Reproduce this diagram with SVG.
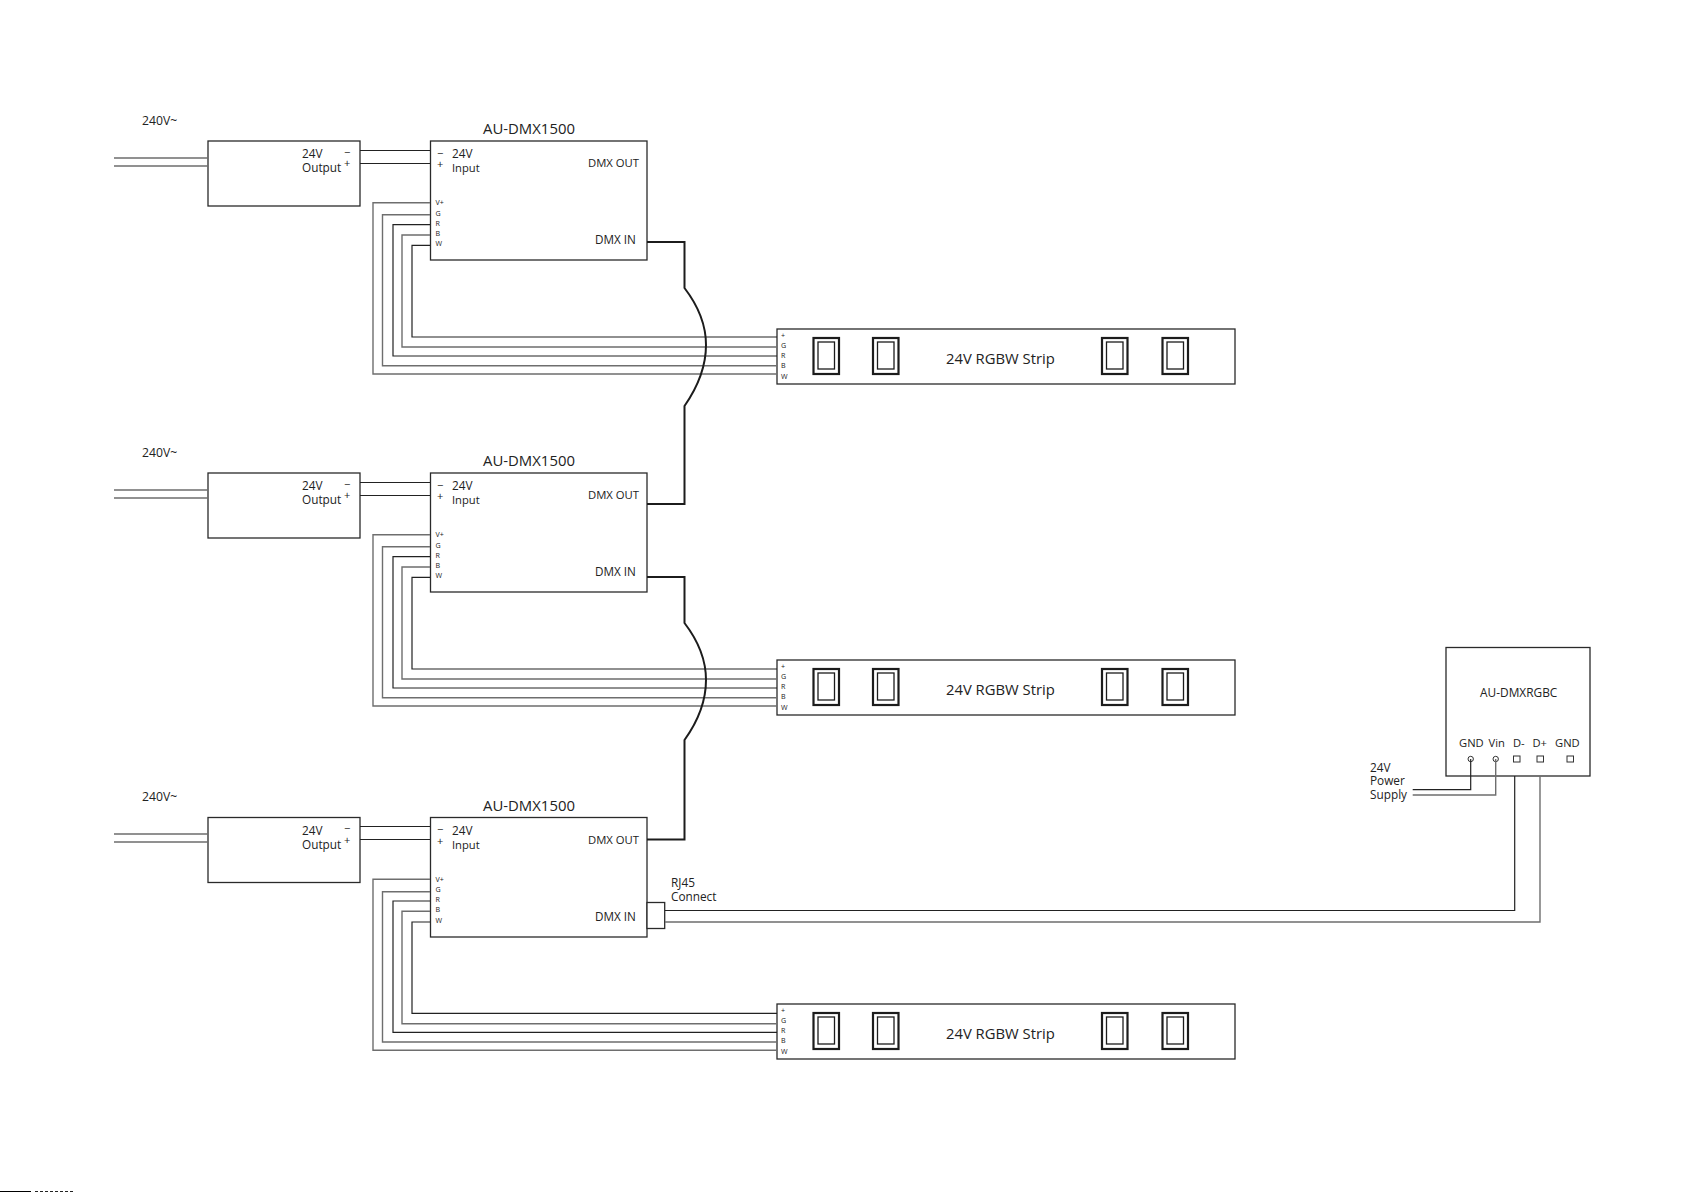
<svg xmlns="http://www.w3.org/2000/svg" width="1685" height="1192" viewBox="0 0 1685 1192">
<style>
text{font-family:"Open Sans","Noto Sans","DejaVu Sans",sans-serif;fill:#222}
.box{fill:#fff;stroke:#2a2a2a;stroke-width:1.3}
.w,.wg,.dmx{fill:none;stroke-linejoin:miter}
.w{stroke:#222;stroke-width:1.2}
.wg{stroke:#6e6e6e;stroke-width:1.4}
.dmx{stroke:#1c1c1c;stroke-width:2}
.led{fill:none;stroke:#1c1c1c}
.t{font-size:14.9px}
.m{font-size:11.8px}
.o{font-size:11.3px}
.i{font-size:11.7px}
.n{font-size:11.2px}
.k{font-size:12.2px}
.p{font-size:11px}
.s{font-size:7.1px}
.strip{font-size:14.8px}
</style>
<defs>
<g id="led"><rect class="led" x="1" y="1" width="25.5" height="36" stroke-width="2.2"/><rect class="led" x="5.5" y="5" width="16.5" height="27" stroke-width="1.3"/></g>
</defs>
<rect width="1685" height="1192" fill="#fff"/>
<g id="psu-1"><rect class="box" x="208" y="141" width="152" height="65"/><text class="m" x="302" y="158">24V</text><text class="m" x="302" y="172">Output</text><text class="p" x="344" y="155.5">−</text><text class="p" x="344" y="167">+</text></g>
<g id="psu-2" transform="translate(0 332)"><rect class="box" x="208" y="141" width="152" height="65"/><text class="m" x="302" y="158">24V</text><text class="m" x="302" y="172">Output</text><text class="p" x="344" y="155.5">−</text><text class="p" x="344" y="167">+</text></g>
<g id="psu-3" transform="translate(0 676.5)"><rect class="box" x="208" y="141" width="152" height="65"/><text class="m" x="302" y="158">24V</text><text class="m" x="302" y="172">Output</text><text class="p" x="344" y="155.5">−</text><text class="p" x="344" y="167">+</text></g>
<g id="mains-labels"><text class="k" x="142" y="125">240V~</text><text class="k" x="142" y="457">240V~</text><text class="k" x="142" y="801">240V~</text></g>
<g id="dmx-1">
<text class="t" x="483" y="134">AU-DMX1500</text><rect class="box" x="430.5" y="141" width="216.5" height="119"/>
<text class="p" x="437" y="156.5">−</text><text class="p" x="437" y="168">+</text><text class="m" x="452" y="158.3">24V</text><text class="n" x="452" y="172.3">Input</text><text class="o" x="588" y="167.3">DMX OUT</text><text class="i" x="595" y="244">DMX IN</text>
<text class="s" x="435.5" y="205">V+</text><text class="s" x="435.5" y="215.5">G</text><text class="s" x="435.5" y="225.5">R</text><text class="s" x="435.5" y="235.8">B</text><text class="s" x="435.5" y="246">W</text>
</g>
<g id="dmx-2" transform="translate(0 332)">
<text class="t" x="483" y="134">AU-DMX1500</text><rect class="box" x="430.5" y="141" width="216.5" height="119"/>
<text class="p" x="437" y="156.5">−</text><text class="p" x="437" y="168">+</text><text class="m" x="452" y="158.3">24V</text><text class="n" x="452" y="172.3">Input</text><text class="o" x="588" y="167.3">DMX OUT</text><text class="i" x="595" y="244">DMX IN</text>
<text class="s" x="435.5" y="205">V+</text><text class="s" x="435.5" y="215.5">G</text><text class="s" x="435.5" y="225.5">R</text><text class="s" x="435.5" y="235.8">B</text><text class="s" x="435.5" y="246">W</text>
</g>
<g id="dmx-3" transform="translate(0 676.5)">
<text class="t" x="483" y="134">AU-DMX1500</text><rect class="box" x="430.5" y="141" width="216.5" height="119.5"/>
<text class="p" x="437" y="156.5">−</text><text class="p" x="437" y="168">+</text><text class="m" x="452" y="158.3">24V</text><text class="n" x="452" y="172.3">Input</text><text class="o" x="588" y="167.3">DMX OUT</text><text class="i" x="595" y="244">DMX IN</text>
<text class="s" x="435.5" y="205">V+</text><text class="s" x="435.5" y="215.5">G</text><text class="s" x="435.5" y="225.5">R</text><text class="s" x="435.5" y="235.8">B</text><text class="s" x="435.5" y="246">W</text>
</g>
<g id="rj45"><rect class="box" x="647" y="902.5" width="17.7" height="26"/><text class="m" x="671" y="887">RJ45</text><text class="m" x="671" y="901">Connect</text></g>
<g id="strip-1"><rect class="box" x="777" y="329" width="458" height="55"/>
<text class="s" x="781" y="337.5">+</text><text class="s" x="781" y="348">G</text><text class="s" x="781" y="358">R</text><text class="s" x="781" y="368">B</text><text class="s" x="781" y="378.5">W</text>
<use href="#led" x="812.5" y="337"/><use href="#led" x="872" y="337"/><use href="#led" x="1101" y="337"/><use href="#led" x="1161.5" y="337"/>
<text class="strip" x="946" y="363.5">24V RGBW Strip</text></g>
<g id="strip-2" transform="translate(0 331)"><rect class="box" x="777" y="329" width="458" height="55"/>
<text class="s" x="781" y="337.5">+</text><text class="s" x="781" y="348">G</text><text class="s" x="781" y="358">R</text><text class="s" x="781" y="368">B</text><text class="s" x="781" y="378.5">W</text>
<use href="#led" x="812.5" y="337"/><use href="#led" x="872" y="337"/><use href="#led" x="1101" y="337"/><use href="#led" x="1161.5" y="337"/>
<text class="strip" x="946" y="363.5">24V RGBW Strip</text></g>
<g id="strip-3" transform="translate(0 675)"><rect class="box" x="777" y="329" width="458" height="55"/>
<text class="s" x="781" y="337.5">+</text><text class="s" x="781" y="348">G</text><text class="s" x="781" y="358">R</text><text class="s" x="781" y="368">B</text><text class="s" x="781" y="378.5">W</text>
<use href="#led" x="812.5" y="337"/><use href="#led" x="872" y="337"/><use href="#led" x="1101" y="337"/><use href="#led" x="1161.5" y="337"/>
<text class="strip" x="946" y="363.5">24V RGBW Strip</text></g>
<g id="au-dmxrgbc"><rect class="box" x="1446" y="647.5" width="144" height="128.5" stroke-width="1.6"/>
<text x="1480" y="697" style="font-size:11.9px">AU-DMXRGBC</text>
<text class="n" x="1459" y="747">GND</text><text class="n" x="1488.5" y="747">Vin</text><text class="n" x="1513" y="747">D-</text><text class="n" x="1532.5" y="747">D+</text><text class="n" x="1555" y="747">GND</text>
<g fill="#fff" stroke="#333" stroke-width="1"><circle cx="1470.7" cy="759" r="2.7"/><circle cx="1495.7" cy="759" r="2.7"/><rect x="1513.5" y="756" width="6.5" height="6"/><rect x="1537" y="756" width="6.5" height="6"/><rect x="1567" y="756" width="6.5" height="6"/></g></g>
<g id="power-label"><text class="m" x="1370" y="771.5">24V</text><text class="m" x="1370" y="785">Power</text><text class="m" x="1370" y="798.5">Supply</text></g>
<g id="edge-strip"><rect x="0" y="1191" width="31" height="1" fill="#000"/><path d="M35 1191.5H73" stroke="#222" stroke-dasharray="3 2"/></g>
<g id="connectors">
<g id="row1-wires">
<path class="wg" d="M114 158H208M114 166H208"/>
<path class="w" d="M360 150.5H430M360 163.5H430"/>
<path class="wg" d="M430 202.7H373V374H777"/>
<path class="wg" d="M430 214.7H382.5V365.7H777"/>
<path class="w" d="M430 224.7H393V356H777"/>
<path class="wg" d="M430 235H402V347H777"/>
<path class="w" d="M430 245.3H412V337H777"/>
</g>
<g id="row2-wires" transform="translate(0 332)">
<path class="wg" d="M114 158H208M114 166H208"/>
<path class="w" d="M360 150.5H430M360 163.5H430"/>
<path class="wg" d="M430 202.7H373V374H777"/>
<path class="wg" d="M430 214.7H382.5V365.7H777"/>
<path class="w" d="M430 224.7H393V356H777"/>
<path class="wg" d="M430 235H402V347H777"/>
<path class="w" d="M430 245.3H412V337H777"/>
</g>
<g id="row3-wires" transform="translate(0 676)">
<path class="wg" d="M114 158H208M114 166H208"/>
<path class="w" d="M360 150.5H430" stroke-width="2"/>
<path class="w" d="M360 163.5H430"/>
<path class="wg" d="M430 203.3H373V374.3H777"/>
<path class="wg" d="M430 215.7H382.5V366H777"/>
<path class="w" d="M430 225H393V356.3H777"/>
<path class="wg" d="M430 235.3H402V347.7H777"/>
<path class="w" d="M430 246H412V337.3H777"/>
</g>
<path id="dmx-1-2" class="dmx" d="M647 242H684.5V288Q706 316 706 345Q706 375 684.5 406V504H647"/>
<path id="dmx-2-3" class="dmx" d="M647 577H684.5V623Q706 651 706 680Q706 710 684.5 740V839.5H647"/>
<path class="w" d="M665 910.5H1514.7V776"/>
<path class="wg" d="M665 922H1540V776"/>
<path class="w" d="M1412.7 789.7H1470.7V759"/>
<path class="wg" d="M1412.7 795H1495.7V759"/>
</g>
</svg>
